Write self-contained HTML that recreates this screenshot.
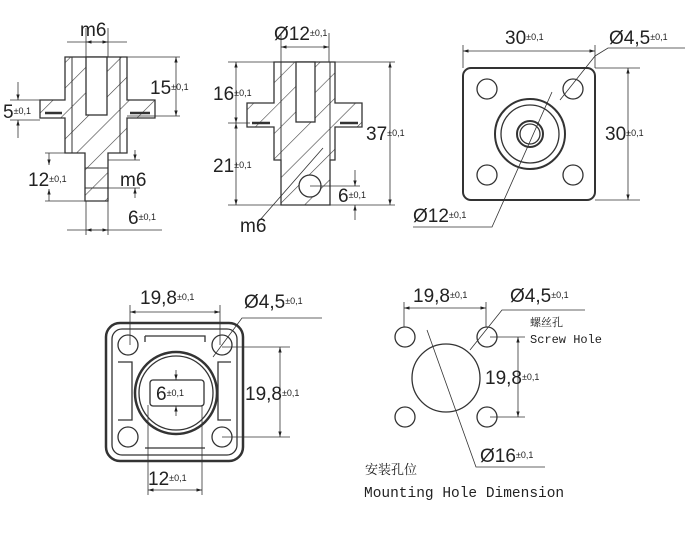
<!DOCTYPE html>
<html><head><meta charset="utf-8"><style>
html,body{margin:0;padding:0;background:#fff}
svg{display:block}
text{font-family:"Liberation Sans",sans-serif;fill:#222}
.b{font-size:19px}.s{font-size:9px}
.m{font-family:"Liberation Mono","DejaVu Sans Mono",monospace;font-size:14.5px}
</style></head><body>
<svg width="687" height="534" viewBox="0 0 687 534" xmlns="http://www.w3.org/2000/svg">
<defs>
<marker id="a" viewBox="0 0 10 10" refX="10" refY="5" markerWidth="7" markerHeight="7" orient="auto-start-reverse"><path d="M0,2 L10,5 L0,8z" fill="#222"/></marker>
<pattern id="h" width="18" height="18" patternUnits="userSpaceOnUse" patternTransform="rotate(45)"><line x1="0" y1="0" x2="0" y2="18" stroke="#444" stroke-width="1.2"/></pattern>
</defs>
<g fill="none" stroke="#333" stroke-width="1.3">
<!-- VIEW 1 -->
<path d="M65,57 H127 V100 H155 V118 H127 V153 H108 V201 H85 V153 H65 V118 H40 V100 H65Z" fill="url(#h)"/>
<path d="M72,57 V153 M120,57 V153" stroke-width="1"/>
<rect x="86" y="57" width="21" height="58" fill="#fff"/>
<path d="M85,168 H108 M85,188 H108" stroke-width="1"/>
<path d="M45,113 H62 M130,113 H150" stroke-width="2.5"/>
<g stroke-width="0.8">
<path d="M86,28 V57 M108,28 V57 M67,42 H127"/>
<path d="M127,57 H180 M127,116 H180 M10,100 H40 M10,120 H40 M45,153 H65 M45,201 H85 M108,160 H140 M108,188 H140 M86,201 V235 M108,201 V235 M67,230 H162"/>
</g>
<g stroke-width="0.8" marker-end="url(#a)" marker-start="url(#a)">
<line x1="86" y1="42" x2="108" y2="42"/>
<line x1="176" y1="57" x2="176" y2="116"/>
<line x1="86" y1="230" x2="108" y2="230"/>
</g>
<g stroke-width="0.8" marker-end="url(#a)">
<line x1="18" y1="82" x2="18" y2="100"/><line x1="18" y1="138" x2="18" y2="120"/>
<line x1="49" y1="153" x2="49" y2="165"/><line x1="49" y1="201" x2="49" y2="189"/>
<line x1="135" y1="150" x2="135" y2="160"/><line x1="135" y1="198" x2="135" y2="188"/>
</g>
<!-- VIEW 2 -->
<path d="M274,62 H335 V103 H362 V127 H335 V160 H330 V205 H281 V160 H274 V127 H247 V103 H274Z" fill="url(#h)"/>
<rect x="296" y="62" width="19" height="60" fill="#fff"/>
<path d="M281,62 V205 M330,62 V205" stroke-width="1"/>
<circle cx="310" cy="186" r="11" fill="#fff"/>
<path d="M252,123 H270 M340,123 H358" stroke-width="2.5"/>
<g stroke-width="0.8">
<path d="M281,33 V62 M329,33 V62 M228,62 H395 M228,123 H250 M228,205 H281 M330,205 H395 M310,186 H360"/>
<path d="M260,220 L323,148"/>
</g>
<g stroke-width="0.8" marker-end="url(#a)" marker-start="url(#a)">
<line x1="281" y1="47" x2="329" y2="47"/>
<line x1="236" y1="62" x2="236" y2="123"/>
<line x1="236" y1="123" x2="236" y2="205"/>
<line x1="390" y1="62" x2="390" y2="205"/>
</g>
<g stroke-width="0.8" marker-end="url(#a)">
<line x1="355" y1="170" x2="355" y2="186"/><line x1="355" y1="220" x2="355" y2="205"/>
</g>
<!-- VIEW 3 -->
<rect x="463" y="68" width="132" height="132" rx="8" stroke-width="2"/>
<circle cx="487" cy="89" r="10"/><circle cx="573" cy="89" r="10"/>
<circle cx="487" cy="175" r="10"/><circle cx="573" cy="175" r="10"/>
<circle cx="530" cy="134" r="35" stroke-width="2"/><circle cx="530" cy="134" r="29"/>
<circle cx="530" cy="134" r="13" stroke-width="2"/><circle cx="530" cy="134" r="10"/>
<g stroke-width="0.8">
<path d="M463,45 V68 M595,45 V68 M595,68 H640 M595,200 H640"/>
<path d="M595,56 L608,48 H685 M595,56 L560,100"/>
<path d="M413,227 H492 L552,92"/>
</g>
<g stroke-width="0.8" marker-end="url(#a)" marker-start="url(#a)">
<line x1="463" y1="51" x2="595" y2="51"/>
<line x1="628" y1="68" x2="628" y2="200"/>
</g>
<!-- VIEW 4 -->
<rect x="106" y="323" width="137" height="138" rx="14" stroke-width="2.5"/>
<rect x="112" y="329" width="125" height="126" rx="10"/>
<path d="M145,336 H205 V342 M145,336 V342 M118,362 H132 V420 H118 M231,362 H218 V420 H231 M145,448 H205"/>
<circle cx="128" cy="345" r="10"/><circle cx="222" cy="345" r="10"/>
<circle cx="128" cy="437" r="10"/><circle cx="222" cy="437" r="10"/>
<circle cx="176" cy="393" r="41" stroke-width="2.5"/><circle cx="176" cy="393" r="37"/>
<rect x="150" y="380" width="54" height="26" rx="3"/>
<g stroke-width="0.8">
<path d="M130,305 V345 M220,305 V345 M222,347 H290 M222,437 H290 M148,405 V495 M202,405 V495"/>
<path d="M213,357 L242,318 H322"/>
</g>
<g stroke-width="0.8" marker-end="url(#a)" marker-start="url(#a)">
<line x1="130" y1="312" x2="220" y2="312"/>
<line x1="280" y1="347" x2="280" y2="437"/>
<line x1="148" y1="490" x2="202" y2="490"/>
</g>
<g stroke-width="0.8" marker-end="url(#a)">
<line x1="176" y1="370" x2="176" y2="380"/><line x1="176" y1="416" x2="176" y2="406"/>
</g>
<!-- VIEW 5 -->
<circle cx="405" cy="337" r="10"/><circle cx="487" cy="337" r="10"/>
<circle cx="405" cy="417" r="10"/><circle cx="487" cy="417" r="10"/>
<circle cx="446" cy="378" r="34"/>
<g stroke-width="0.8">
<path d="M404,302 V327 M486,302 V327 M490,337 H525 M490,417 H525"/>
<path d="M470,350 L502,310 H585"/>
<path d="M427,330 L476,467 H545"/>
</g>
<g stroke-width="0.8" marker-end="url(#a)" marker-start="url(#a)">
<line x1="404" y1="308" x2="486" y2="308"/>
<line x1="518" y1="337" x2="518" y2="417"/>
</g>
</g>
<!-- text -->
<text class="b" x="80" y="36">m6</text>
<text class="b" x="150" y="94">15<tspan class="s" dy="-4">±0,1</tspan></text>
<text class="b" x="3" y="118">5<tspan class="s" dy="-4">±0,1</tspan></text>
<text class="b" x="28" y="186">12<tspan class="s" dy="-4">±0,1</tspan></text>
<text class="b" x="120" y="186">m6</text>
<text class="b" x="128" y="224">6<tspan class="s" dy="-4">±0,1</tspan></text>
<text class="b" x="274" y="40">Ø12<tspan class="s" dy="-4">±0,1</tspan></text>
<text class="b" x="213" y="100">16<tspan class="s" dy="-4">±0,1</tspan></text>
<text class="b" x="213" y="172">21<tspan class="s" dy="-4">±0,1</tspan></text>
<text class="b" x="366" y="140">37<tspan class="s" dy="-4">±0,1</tspan></text>
<text class="b" x="338" y="202">6<tspan class="s" dy="-4">±0,1</tspan></text>
<text class="b" x="240" y="232">m6</text>
<text class="b" x="505" y="44">30<tspan class="s" dy="-4">±0,1</tspan></text>
<text class="b" x="609" y="44">Ø4,5<tspan class="s" dy="-4">±0,1</tspan></text>
<text class="b" x="605" y="140">30<tspan class="s" dy="-4">±0,1</tspan></text>
<text class="b" x="413" y="222">Ø12<tspan class="s" dy="-4">±0,1</tspan></text>
<text class="b" x="140" y="304">19,8<tspan class="s" dy="-4">±0,1</tspan></text>
<text class="b" x="244" y="308">Ø4,5<tspan class="s" dy="-4">±0,1</tspan></text>
<text class="b" x="245" y="400">19,8<tspan class="s" dy="-4">±0,1</tspan></text>
<text class="b" x="156" y="400">6<tspan class="s" dy="-4">±0,1</tspan></text>
<text class="b" x="148" y="485">12<tspan class="s" dy="-4">±0,1</tspan></text>
<text class="b" x="413" y="302">19,8<tspan class="s" dy="-4">±0,1</tspan></text>
<text class="b" x="510" y="302">Ø4,5<tspan class="s" dy="-4">±0,1</tspan></text>
<text class="b" x="485" y="384">19,8<tspan class="s" dy="-4">±0,1</tspan></text>
<text class="b" x="480" y="462">Ø16<tspan class="s" dy="-4">±0,1</tspan></text>
<text x="530" y="326" style="font-family:'Noto Serif CJK SC',serif;font-size:11px">螺丝孔</text>
<text class="m" x="530" y="343" style="font-size:12px">Screw Hole</text>
<text x="365" y="474" style="font-family:'Noto Serif CJK SC',serif;font-size:13px">安装孔位</text>
<text class="m" x="364" y="497">Mounting Hole Dimension</text>
</svg>
</body></html>
